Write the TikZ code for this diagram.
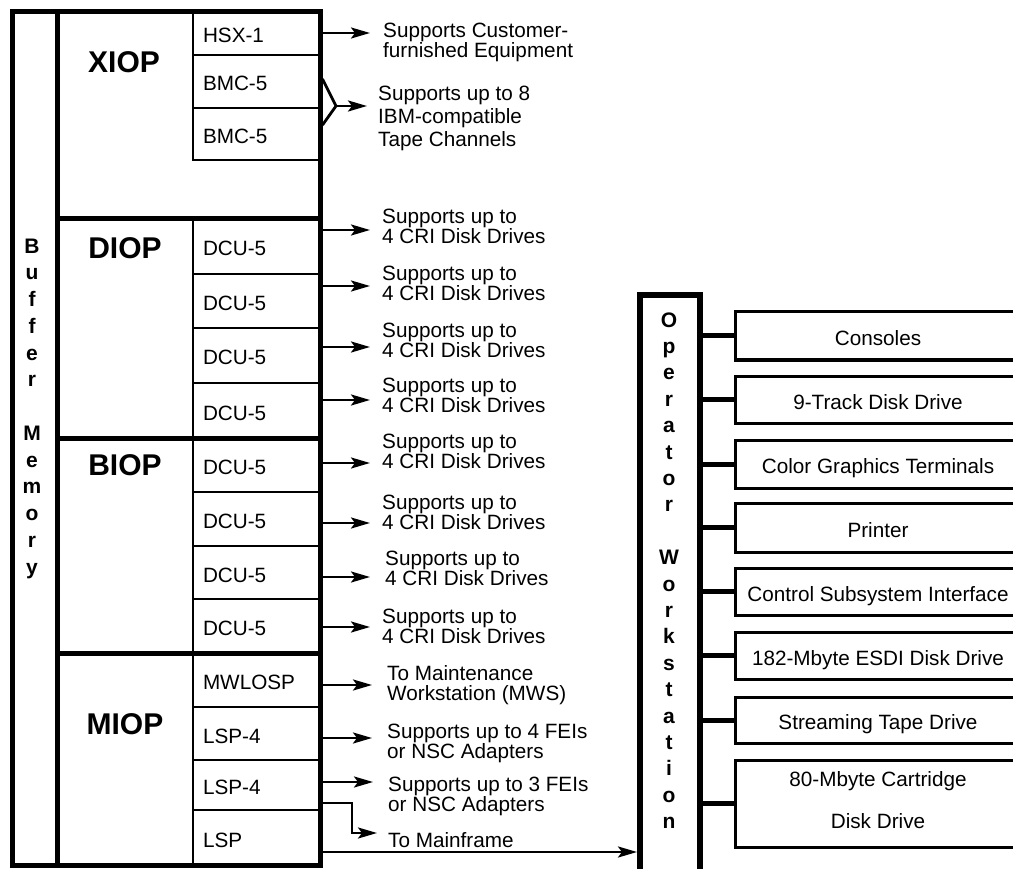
\documentclass[tikz,border=0pt]{standalone}
\usepackage{fontspec}
\setmainfont{Liberation Sans}
\usetikzlibrary{arrows.meta}
\newcommand{\txtf}{\fontsize{20.7}{20}\selectfont}
\newcommand{\txtg}{\fontsize{20.7}{23}\selectfont}
\newcommand{\txth}{\fontsize{20.7}{42}\selectfont}
\newcommand{\secf}{\fontsize{30}{34}\selectfont\bfseries}
\newcommand{\vertf}{\fontsize{21}{26.75}\selectfont\bfseries}
\newcommand{\vertg}{\fontsize{21}{26.4}\selectfont\bfseries}
\begin{document}
\begin{tikzpicture}[x=1pt,y=-1pt,
  sub/.style={draw, line width=2.5pt, minimum width=127pt, text width=107pt, align=left,
    inner xsep=10pt, inner ysep=0pt, text height=19pt, text depth=0pt, font=\txtf},
  heavy/.style={line width=5pt},
  desc/.style={font=\txtf, align=left, inner sep=0pt, anchor=west},
  sect/.style={font=\secf, inner sep=0pt},
  arr/.style={line width=2.8pt, -{Stealth[length=19pt,width=11pt,inset=4pt]}},
  dev/.style={draw, line width=3pt, minimum width=286pt, inner sep=0pt, font=\txtf},
  conn/.style={line width=5pt}]
\useasboundingbox (0,0) rectangle (1013,869);
\clip (0,0) rectangle (1013,869);
\fill[white] (0,0) rectangle (1013,869);

% ---- sub boxes ----
\node[sub, minimum height=43pt] (hsx) at (256.5,33.5) {HSX-1};
\node[sub, minimum height=53pt] (bmca) at (256.5,81.5) {BMC-5};
\node[sub, minimum height=52pt] (bmcb) at (256.5,134) {BMC-5};

\node[sub, minimum height=55pt] (da) at (256.5,246.5) {DCU-5};
\node[sub, minimum height=54pt] (db) at (256.5,301) {DCU-5};
\node[sub, minimum height=55pt] (dc) at (256.5,355.5) {DCU-5};
\node[sub, minimum height=55pt] (dd) at (256.5,410.5) {DCU-5};

\node[sub, minimum height=54pt] (ba) at (256.5,465) {DCU-5};
\node[sub, minimum height=54pt] (bb) at (256.5,519) {DCU-5};
\node[sub, minimum height=53pt] (bc) at (256.5,572.5) {DCU-5};
\node[sub, minimum height=54pt] (bd) at (256.5,626) {DCU-5};

\node[sub, minimum height=54pt] (mw) at (256.5,680) {MWLOSP};
\node[sub, minimum height=53pt] (la) at (256.5,733.5) {LSP-4};
\node[sub, minimum height=50pt] (lb) at (256.5,785) {LSP-4};
\node[sub, minimum height=55pt] (lsp) at (256.5,837.5) {LSP};

% ---- outer frame ----
\node[draw, heavy, minimum width=308pt, minimum height=853pt, inner sep=0pt] (outer) at (166,438.5) {};
\draw[heavy] (57,12) -- (57,865);
\draw[heavy] (57,219) -- (320,219);
\draw[heavy] (57,438) -- (320,438);
\draw[heavy] (57,653) -- (320,653);

% ---- vertical label ----
\node[font=\vertf, align=center, inner sep=0pt] (buf) at (32,408.5)
  {B\\u\\f\\f\\e\\r\\[26.75pt]M\\e\\m\\o\\r\\y};

% ---- section titles ----
\node[sect] (xiop) at (124,62) {XIOP};
\node[sect] (diop) at (125,248) {DIOP};
\node[sect] (biop) at (125,465) {BIOP};
\node[sect] (miop) at (125,724) {MIOP};

% ---- descriptions ----
\node[desc] (t1) at (383,42) {Supports Customer-\\furnished Equipment};
\node[desc, font=\txtg] (t2) at (378,118) {Supports up to 8\\IBM-compatible\\Tape Channels};
\node[desc] (d1) at (382,226) {Supports up to\\4 CRI Disk Drives};
\node[desc] (d2) at (382,283) {Supports up to\\4 CRI Disk Drives};
\node[desc] (d3) at (382,340) {Supports up to\\4 CRI Disk Drives};
\node[desc] (d4) at (382,395) {Supports up to\\4 CRI Disk Drives};
\node[desc] (e1) at (382,451) {Supports up to\\4 CRI Disk Drives};
\node[desc] (e2) at (382,512) {Supports up to\\4 CRI Disk Drives};
\node[desc] (e3) at (385,568) {Supports up to\\4 CRI Disk Drives};
\node[desc] (e4) at (382,626) {Supports up to\\4 CRI Disk Drives};
\node[desc] (m1) at (387,685) {To Maintenance\\Workstation (MWS)};
\node[desc] (m2) at (387,743) {Supports up to 4 FEIs\\or NSC Adapters};
\node[desc] (m3) at (388,796) {Supports up to 3 FEIs\\or NSC Adapters};
\node[desc] (m4) at (388,840) {To Mainframe};

% ---- arrows ----
\draw[arr] (outer.east |- 0,33) -- ([xshift=-13pt]t1.west |- 0,33);
\draw[line width=2.8pt, line join=miter] (outer.east |- 0,79) -- (336,106) -- (outer.east |- 0,125);
\draw[arr] (336,106) -- ([xshift=-11pt]t2.west |- 0,106);
\draw[arr] (outer.east |- 0,230) -- ([xshift=-12pt]d1.west |- 0,230);
\draw[arr] (outer.east |- 0,286) -- ([xshift=-12pt]d2.west |- 0,286);
\draw[arr] (outer.east |- 0,347) -- ([xshift=-12pt]d3.west |- 0,347);
\draw[arr] (outer.east |- 0,400) -- ([xshift=-12pt]d4.west |- 0,400);
\draw[arr] (outer.east |- 0,463) -- ([xshift=-12pt]e1.west |- 0,463);
\draw[arr] (outer.east |- 0,523) -- ([xshift=-12pt]e2.west |- 0,523);
\draw[arr] (outer.east |- 0,577) -- ([xshift=-15pt]e3.west |- 0,577);
\draw[arr] (outer.east |- 0,627) -- ([xshift=-12pt]e4.west |- 0,627);
\draw[arr] (outer.east |- 0,685) -- ([xshift=-15pt]m1.west |- 0,685);
\draw[arr] (outer.east |- 0,738) -- ([xshift=-15pt]m2.west |- 0,738);
\draw[arr] (outer.east |- 0,782) -- ([xshift=-15pt]m3.west |- 0,782);
\draw[arr] (outer.east |- 0,803) -- (352,803) -- (352,833) -- ([xshift=-11pt]m4.west |- 0,833);

% ---- operator workstation ----
\node[draw, line width=6pt, minimum width=60pt, minimum height=620pt, inner sep=0pt] (ws) at (670,605) {};
\node[font=\vertg, align=center, inner sep=0pt] (wsl) at (669,570.6)
  {O\\p\\e\\r\\a\\t\\o\\r\\[26.4pt]W\\o\\r\\k\\s\\t\\a\\t\\i\\o\\n};
\draw[arr] (outer.east |- 0,852) -- (ws.west |- 0,852);

% ---- devices ----
\node[dev, minimum height=48pt, text height=19pt, text depth=0pt] (cons) at (878,336) {Consoles};
\node[dev, minimum height=47pt, text height=19pt, text depth=0pt] (trk) at (878,399.5) {9-Track Disk Drive};
\node[dev, minimum height=48pt, text height=19pt, text depth=0pt] (cgt) at (878,464) {Color Graphics Terminals};
\node[dev, minimum height=49pt, text height=19pt, text depth=0pt] (prn) at (878,527.5) {Printer};
\node[dev, minimum height=47pt, text height=19pt, text depth=0pt] (csi) at (878,591.5) {Control Subsystem Interface};
\node[dev, minimum height=47pt, text height=19pt, text depth=0pt] (esdi) at (878,655.5) {182-Mbyte ESDI Disk Drive};
\node[dev, minimum height=46pt, text height=19pt, text depth=0pt] (stm) at (878,720) {Streaming Tape Drive};
\node[dev, minimum height=87pt, font=\txth, align=center, text depth=8pt] (cart) at (878,803.5) {80-Mbyte Cartridge\\Disk Drive};

\foreach \d in {cons,trk,cgt,prn,csi,esdi,stm,cart}
  \draw[conn] (ws.east |- \d.west) -- (\d.west);
\end{tikzpicture}
\end{document}
